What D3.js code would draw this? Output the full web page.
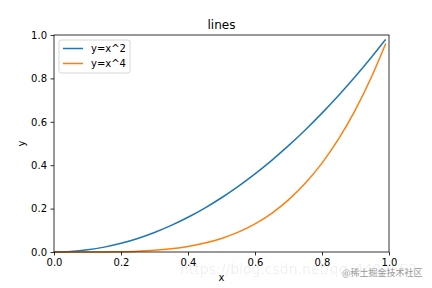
<!DOCTYPE html>
<html>
<head>
<meta charset="utf-8">
<script src="https://cdn.jsdelivr.net/npm/d3@7"></script>
<style>
  body { margin: 0; background: #fff; }
  svg { display: block; font-family: "DejaVu Sans", sans-serif; }
</style>
</head>
<body>
<script>
// values
const xs = [0, 0.05, 0.1, 0.15, 0.2, 0.25, 0.3, 0.35, 0.4, 0.45, 0.5, 0.55, 0.6, 0.65, 0.7, 0.75, 0.8, 0.85, 0.9, 0.95, 0.99];
const squared = [0, 0.0025, 0.01, 0.0225, 0.04, 0.0625, 0.09, 0.1225, 0.16, 0.2025, 0.25, 0.3025, 0.36, 0.4225, 0.49, 0.5625, 0.64, 0.7225, 0.81, 0.9025, 0.98];
const fourth = [0, 0, 0.0001, 0.0005, 0.0016, 0.0039, 0.0081, 0.015, 0.0256, 0.041, 0.0625, 0.0915, 0.1296, 0.1785, 0.2401, 0.3164, 0.4096, 0.522, 0.6561, 0.8145, 0.9606];
const seriesNames = ["y=x^2", "y=x^4"];
const tickValues = [0, 0.2, 0.4, 0.6, 0.8, 1.0];

const W = 432, H = 288;
const margin = { left: 54, right: 43, top: 35, bottom: 36 };
const width = W - margin.left - margin.right;
const height = H - margin.top - margin.bottom;
const colors = ["#1f77b4", "#ff7f0e"];

const svg = d3.select("body").append("svg")
    .attr("width", W)
    .attr("height", H);

const g = svg.append("g")
    .attr("transform", `translate(${margin.left},${margin.top})`);

const x = d3.scaleLinear().domain([0, 1]).range([0, width]);
const y = d3.scaleLinear().domain([0, 1]).range([height, 0]);

// lines
const line = d3.line()
    .x(d => x(d[0]))
    .y(d => y(d[1]))
    .curve(d3.curveMonotoneX);

[squared, fourth].forEach((vals, i) => {
    g.append("path")
        .datum(xs.map((v, j) => [v, vals[j]]))
        .attr("fill", "none")
        .attr("stroke", colors[i])
        .attr("stroke-width", 1.5)
        .attr("d", line);
});

// axes
const xAxis = g.append("g")
    .attr("transform", `translate(0,${height})`)
    .call(d3.axisBottom(x).tickValues(tickValues).tickFormat(d3.format(".1f")).tickSize(3.5).tickPadding(3.5));
const yAxis = g.append("g")
    .call(d3.axisLeft(y).tickValues(tickValues).tickFormat(d3.format(".1f")).tickSize(3.5).tickPadding(3.5));

[xAxis, yAxis].forEach(a => {
    a.select(".domain").remove();
    a.selectAll("text").attr("font-size", 10).attr("fill", "#000").attr("font-family", "DejaVu Sans");
    a.selectAll("line").attr("stroke", "#000").attr("stroke-width", 0.8);
});

// frame
g.append("rect")
    .attr("width", width)
    .attr("height", height)
    .attr("fill", "none")
    .attr("stroke", "#000")
    .attr("stroke-width", 0.8);

// title and labels
svg.append("text")
    .attr("x", margin.left + width / 2)
    .attr("y", 29)
    .attr("text-anchor", "middle")
    .attr("font-size", 12)
    .text("lines");

svg.append("text")
    .attr("x", margin.left + width / 2)
    .attr("y", 281)
    .attr("text-anchor", "middle")
    .attr("font-size", 10)
    .text("x");

svg.append("text")
    .attr("transform", `translate(25,${margin.top + height / 2}) rotate(-90)`)
    .attr("text-anchor", "middle")
    .attr("font-size", 10)
    .text("y");

// legend
const legend = g.append("g").attr("transform", "translate(5,5)");
legend.append("rect")
    .attr("width", 71)
    .attr("height", 33)
    .attr("rx", 2)
    .attr("fill", "#fff")
    .attr("fill-opacity", 0.8)
    .attr("stroke", "#ccc")
    .attr("stroke-width", 0.8);

seriesNames.forEach((name, i) => {
    const ly = 8.5 + i * 15;
    legend.append("line")
        .attr("x1", 4).attr("x2", 24)
        .attr("y1", ly).attr("y2", ly)
        .attr("stroke", colors[i])
        .attr("stroke-width", 1.5);
    legend.append("text")
        .attr("x", 32)
        .attr("y", ly + 3.5)
        .attr("font-size", 10)
        .text(name);
});

// watermarks
svg.append("text")
    .attr("x", 180)
    .attr("y", 274)
    .attr("font-size", 14)
    .attr("fill", "#000")
    .attr("fill-opacity", 0.08)
    .text("https://blog.csdn.net/qq_4402552");

svg.append("text")
    .attr("x", 342)
    .attr("y", 276)
    .attr("font-size", 9)
    .attr("font-family", "Noto Sans CJK SC")
    .attr("fill", "#999")
    .text("@稀土掘金技术社区");
</script>
</body>
</html>
